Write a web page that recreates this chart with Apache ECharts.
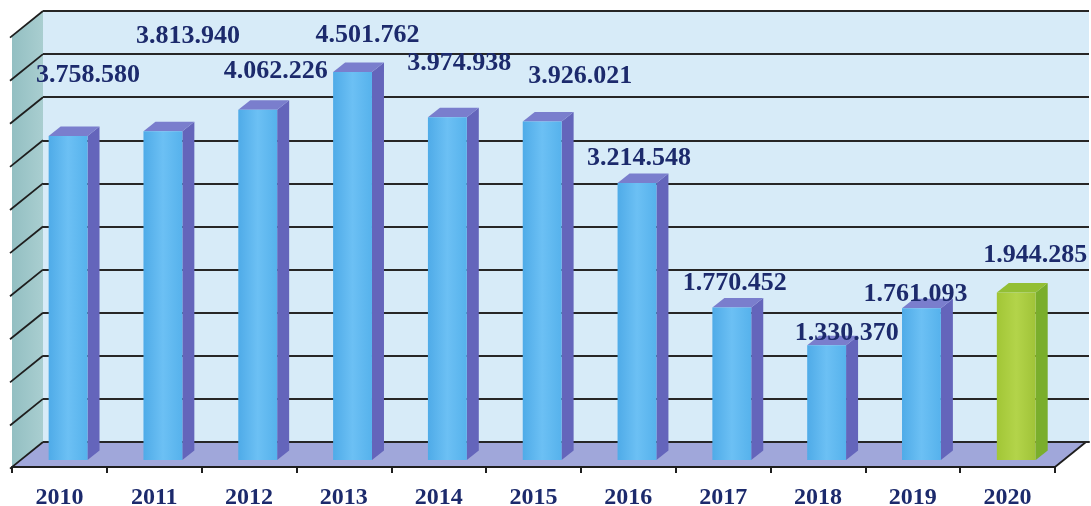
<!DOCTYPE html>
<html>
<head>
<meta charset="utf-8">
<script src="https://cdn.jsdelivr.net/npm/echarts@6/dist/echarts.min.js"></script>
<style>
html,body{margin:0;padding:0;background:#ffffff;}
#chart{width:1091px;height:506px;}
</style>
</head>
<body>
<div id="chart"></div>
<script>
// ---- data ----
const years = ['2010','2011','2012','2013','2014','2015','2016','2017','2018','2019','2020'];
const values = [3758580, 3813940, 4062226, 4501762, 3974938, 3926021, 3214548, 1770452, 1330370, 1761093, 1944285];
const labels = ['3.758.580','3.813.940','4.062.226','4.501.762','3.974.938','3.926.021','3.214.548','1.770.452','1.330.370','1.761.093','1.944.285'];
const yMin = 0, yMax = 5000000, yStep = 500000;

// ---- layout / style (not data) ----
const labelOffsets = [[20,-61],[25,-95],[18,-39],[15,-37],[12,-54],[38,-45],[2,-25],[3,-24],[20,-12],[-6,-14],[19,-37]];
const DX = 31, DY = -25;          // depth vector front->back
const BAR_D0 = 0.28;              // bar front plane depth fraction
const BAR_DX = 12, BAR_DY = -9.5; // bar depth
const BAR_W = 0.41;               // fraction of category width
const textColor = '#1c2a6c';

const chart = echarts.init(document.getElementById('chart'));

function wallRender(params, api) {
  const p0 = api.coord([0, yMin]);
  const pTop = api.coord([0, yMax]);
  const cw = api.size([1, 0])[0];
  const xL = p0[0] - cw / 2;
  const xR = api.coord([years.length - 1, yMin])[0] + cw / 2;
  const yB = p0[1], yT = pTop[1];
  const children = [];
  children.push({type:'polygon', shape:{points:[[xL,yB],[xL,yT],[xL+DX,yT+DY],[xL+DX,yB+DY]]},
    style:{fill:new echarts.graphic.LinearGradient(0,0,1,0,[{offset:0,color:'#93bfc2'},{offset:1,color:'#a9ced0'}])}});
  children.push({type:'polygon', shape:{points:[[xL,yB],[xR,yB],[xR+DX,yB+DY],[xL+DX,yB+DY]]},
    style:{fill:'#a0a7da'}});
  for (let v = yMin; v <= yMax; v += yStep) {
    const y = api.coord([0, v])[1];
    children.push({type:'line', shape:{x1:xL-2,y1:y+1.6,x2:xL+DX,y2:y+DY}, style:{stroke:'#1e1e1e',lineWidth:1.8}});
  }
  children.push({type:'line', shape:{x1:xL+DX,y1:yB+DY,x2:xR+DX+4,y2:yB+DY}, style:{stroke:'#2a2a2a',lineWidth:1.6}});
  children.push({type:'line', shape:{x1:xR,y1:yB,x2:xR+DX,y2:yB+DY}, style:{stroke:'#1e1e1e',lineWidth:1.8}});
  return {type:'group', children};
}

function barRender(params, api) {
  const i = api.value(0), v = api.value(1);
  const base = api.coord([i, yMin]);
  const top = api.coord([i, v]);
  const cw = api.size([1, 0])[0];
  const w = cw * BAR_W;
  const ox = DX * BAR_D0, oy = DY * BAR_D0;
  const cx = base[0] + ox;
  const yb = base[1] + oy, yt = top[1] + oy;
  const xl = cx - w / 2, xr = cx + w / 2;
  const green = i === years.length - 1;
  const frontFill = green
    ? new echarts.graphic.LinearGradient(0,0,1,0,[{offset:0,color:'#a2c636'},{offset:0.5,color:'#b3d44a'},{offset:1,color:'#a0c338'}])
    : new echarts.graphic.LinearGradient(0,0,1,0,[{offset:0,color:'#4fabe8'},{offset:0.5,color:'#6cc0f4'},{offset:1,color:'#56b2ec'}]);
  const sideFill = green ? '#7aae2c' : '#6465bb';
  const topFill = green ? '#93bf34' : '#7a7ecd';
  const off = labelOffsets[i] || [0,-20];
  return {type:'group', children:[
    {type:'polygon', shape:{points:[[xr,yb],[xr,yt],[xr+BAR_DX,yt+BAR_DY],[xr+BAR_DX,yb+BAR_DY]]}, style:{fill:sideFill}},
    {type:'polygon', shape:{points:[[xl,yt],[xr,yt],[xr+BAR_DX,yt+BAR_DY],[xl+BAR_DX,yt+BAR_DY]]}, style:{fill:topFill}},
    {type:'rect', shape:{x:xl,y:yt,width:w,height:yb-yt}, style:{fill:frontFill}},
    {type:'text', x: cx + off[0], y: yt + off[1], z2: 10,
      style:{text: labels[i], fill:textColor, font:'bold 26px "Liberation Serif", "Times New Roman", serif', align:'center', verticalAlign:'middle'}}
  ]};
}

const option = {
  animation: false,
  backgroundColor: '#ffffff',
  grid: [
    {left: 12, right: 36, top: 36, bottom: 39, containLabel: false, outerBoundsMode: 'none'},
    {left: 43, right: 2, top: 11, bottom: 64, show: true, backgroundColor: '#d7ebf8', borderWidth: 0, outerBoundsMode: 'none'}
  ],
  xAxis: [
    {type:'category', gridIndex:0, data: years,
      axisLine:{show:true, lineStyle:{color:'#1e1e1e', width:2}},
      axisTick:{show:true, length:6, inside:false, lineStyle:{color:'#1e1e1e', width:2}},
      axisLabel:{color:textColor, fontSize:24, fontWeight:'bold', fontFamily:'"Liberation Serif", "Times New Roman", serif', margin:19}},
    {type:'category', gridIndex:1, data: years, show:false}
  ],
  yAxis: [
    {type:'value', gridIndex:0, min:yMin, max:yMax, interval:yStep, show:false, splitLine:{show:false}},
    {type:'value', gridIndex:1, min:yMin, max:yMax, interval:yStep,
      axisLine:{show:false}, axisTick:{show:false}, axisLabel:{show:false},
      splitLine:{show:true, lineStyle:{color:'#262626', width:1.8}}}
  ],
  series: [
    {type:'custom', xAxisIndex:0, yAxisIndex:0, z:-1, clip:false, silent:true,
      data:[[0, 0]], renderItem: wallRender},
    {type:'custom', xAxisIndex:0, yAxisIndex:0, z:3, clip:false, silent:true,
      data: values.map((v, i) => [i, v]), renderItem: barRender}
  ]
};
chart.setOption(option);
</script>
</body>
</html>
